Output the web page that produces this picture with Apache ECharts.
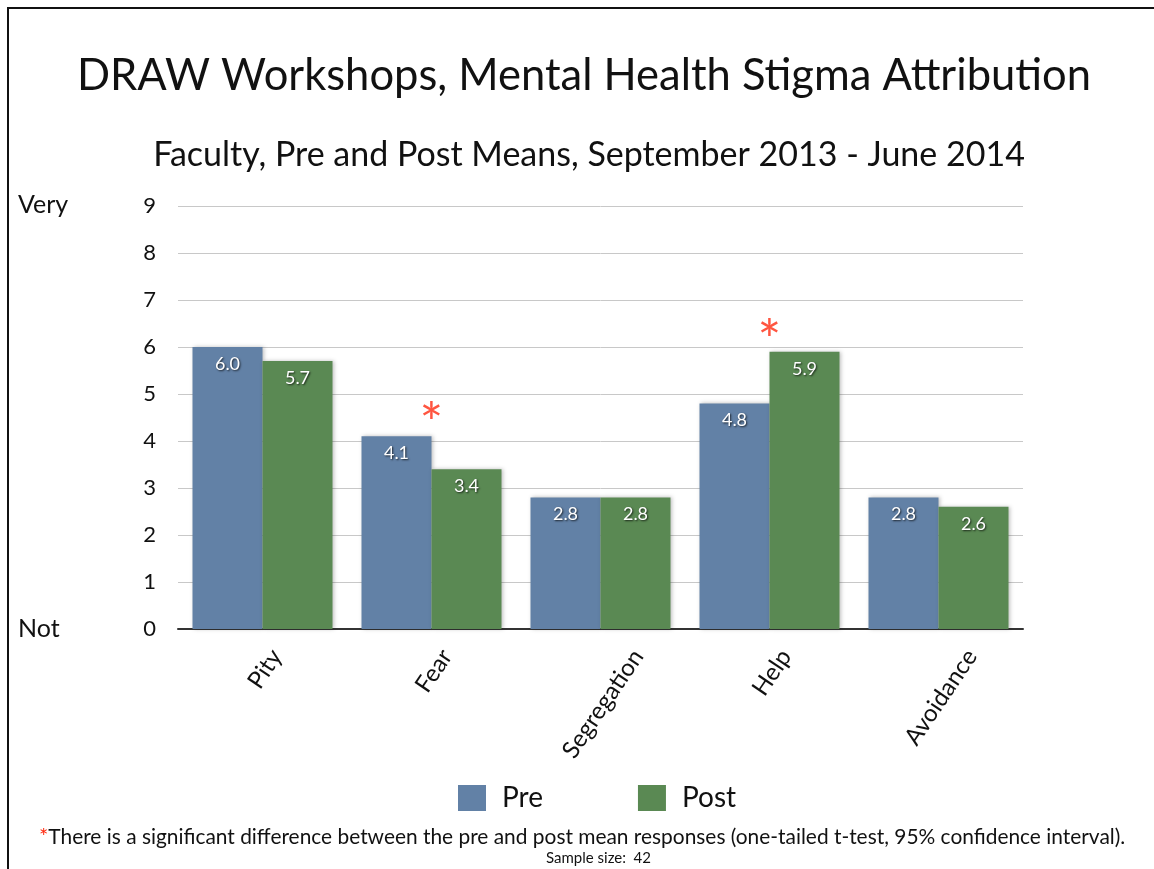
<!DOCTYPE html>
<html>
<head>
<meta charset="utf-8">
<script src="https://cdn.jsdelivr.net/npm/echarts@6/dist/echarts.min.js"></script>
<style>
  html, body { margin: 0; padding: 0; background: #fff; }
  #frame { position: absolute; left: 7px; top: 7px; width: 1160px; height: 880px; border-left: 2px solid #111; border-top: 2px solid #111; }
  #chart { position: absolute; left: 0; top: 0; width: 1154px; height: 869px; }
</style>
</head>
<body>
<div id="frame"></div>
<div id="chart"></div>
<script>
const categories = ['Pity', 'Fear', 'Segregation', 'Help', 'Avoidance'];
const preValues = [6.0, 4.1, 2.8, 4.8, 2.8];
const postValues = [5.7, 3.4, 2.8, 5.9, 2.6];
const yTicks = [0, 1, 2, 3, 4, 5, 6, 7, 8, 9];
// significance markers: [category, height of the asterisk]
const significanceMarkers = [['Fear', 4.35], ['Help', 6.1]];

const FONT = 'Lato, "Open Sans", sans-serif';
const chart = echarts.init(document.getElementById('chart'));

// Category labels: rotated, each centred on its category with its top end on a common line
const LABEL_SIZE = 24;
const ROT = 56 * Math.PI / 180;
const LABEL_MARGIN = 8;
const AXIS_Y = 629;
const TOP_Y = 652;
const measureCtx = document.createElement('canvas').getContext('2d');
measureCtx.font = LABEL_SIZE + 'px ' + FONT;
const labelRich = {};
categories.forEach((c, i) => {
  const L = measureCtx.measureText(c).width;
  const dx = 2.5;
  const dy = TOP_Y + (L / 2) * Math.sin(ROT) - (AXIS_Y + LABEL_MARGIN);
  const a = dx * Math.cos(ROT) - dy * Math.sin(ROT);
  const b = dx * Math.sin(ROT) + dy * Math.cos(ROT);
  labelRich['c' + i] = {
    fontFamily: FONT, fontSize: LABEL_SIZE, color: '#111',
    padding: [Math.max(0, 2 * b), Math.max(0, -2 * a), Math.max(0, -2 * b), Math.max(0, 2 * a)]
  };
});

const labelStyle = {
  show: true,
  position: 'insideTop',
  distance: 8,
  color: '#fff',
  fontFamily: FONT,
  fontSize: 18,
  textShadowColor: 'rgba(0,0,0,0.75)',
  textShadowBlur: 2,
  textShadowOffsetX: 1,
  textShadowOffsetY: 1,
  formatter: p => p.value.toFixed(1)
};

chart.setOption({
  animation: false,
  backgroundColor: 'transparent',
  title: [
    { text: 'DRAW Workshops, Mental Health Stigma Attribution', left: 579, top: 49, textAlign: 'center',
      textStyle: { fontFamily: FONT, fontWeight: 'normal', fontSize: 43.5, color: '#111' } },
    { text: 'Faculty, Pre and Post Means, September 2013 - June 2014', left: 584, top: 133, textAlign: 'center',
      textStyle: { fontFamily: FONT, fontWeight: 'normal', fontSize: 34, color: '#111' } }
  ],
  grid: { left: 178, right: 131, top: 206, bottom: 240, containLabel: false },
  legend: {
    data: ['Pre', 'Post'],
    bottom: 52,
    left: 453,
    itemWidth: 28,
    itemHeight: 26,
    itemGap: 95,
    icon: 'rect',
    textStyle: { fontFamily: FONT, fontSize: 28, color: '#111', padding: [0, 0, 0, 11] }
  },
  xAxis: {
    type: 'category',
    data: categories,
    axisLine: { lineStyle: { color: '#333', width: 2 } },
    axisTick: { show: false },
    axisLabel: {
      interval: 0, rotate: 56, align: 'center', verticalAlign: 'middle', margin: LABEL_MARGIN,
      formatter: (v, i) => '{c' + i + '|' + v + '}',
      rich: labelRich
    }
  },
  yAxis: {
    type: 'value',
    min: yTicks[0],
    max: yTicks[yTicks.length - 1],
    interval: 1,
    axisLine: { show: false },
    axisTick: { show: false },
    splitLine: { lineStyle: { color: '#c8c8c8', width: 1 } },
    axisLabel: { fontFamily: FONT, fontSize: 22, color: '#111', margin: 22 }
  },
  graphic: [
    { type: 'text', left: 18, top: 192, style: { text: 'Very', font: '25px ' + FONT, fill: '#111' } },
    { type: 'text', left: 18, top: 616, style: { text: 'Not', font: '25px ' + FONT, fill: '#111' } },
    { type: 'text', left: 39, top: 826, style: {
        text: '{r|*}{t|There is a significant difference between the pre and post mean responses (one-tailed t-test, 95% confidence interval).}',
        rich: {
          r: { fill: '#ff2a10', font: '22px ' + FONT, verticalAlign: 'top' },
          t: { fill: '#111', font: '20.9px ' + FONT }
        }
      } },
    { type: 'text', left: 546, top: 851, style: { text: 'Sample size:  42', font: '15px ' + FONT, fill: '#111' } }
  ],
  series: [
    {
      name: 'Pre', type: 'bar', data: preValues, barWidth: 70, barGap: '0%',
      itemStyle: { color: '#6281a6', shadowColor: 'rgba(0,0,0,0.25)', shadowBlur: 4, shadowOffsetX: 1, shadowOffsetY: 0 },
      label: labelStyle
    },
    {
      name: 'Post', type: 'bar', data: postValues, barWidth: 70,
      itemStyle: { color: '#5a8953', shadowColor: 'rgba(0,0,0,0.25)', shadowBlur: 4, shadowOffsetX: 1, shadowOffsetY: 0 },
      label: labelStyle
    },
    {
      name: 'sig', type: 'scatter', data: significanceMarkers, symbolSize: 0,
      silent: true,
      label: { show: true, position: 'inside', formatter: '*', color: '#ff2a10', fontSize: 56, fontFamily: FONT }
    }
  ]
});
</script>
</body>
</html>
